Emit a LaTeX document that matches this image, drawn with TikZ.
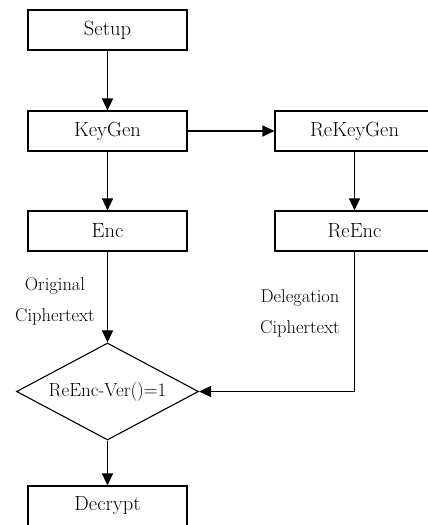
\documentclass[tikz,border=0pt]{standalone}
\usetikzlibrary{arrows.meta,shapes.geometric}
\begin{document}
\begin{tikzpicture}[x=1pt,y=-1pt,
  every node/.style={font=\fontsize{20.5}{24}\selectfont},
  box/.style={draw,line width=1.1pt,minimum width=159pt,minimum height=40pt,inner sep=0pt},
  dia/.style={draw,diamond,line width=1.1pt,minimum width=182pt,minimum height=97pt,aspect=1.876,inner sep=0pt,font=\fontsize{19}{23}\selectfont},
  lbl/.style={align=center,font=\fontsize{18.5}{31}\selectfont},
  conn/.style={line width=1.1pt,-{Triangle[length=12pt,width=11pt]}}]
\useasboundingbox (0,0) rectangle (428,525);
\node[box] (setup) at (107.5,30) {Setup};
\node[box] (keygen) at (107.5,131) {KeyGen};
\node[box] (rekeygen) at (354.5,131) {ReKeyGen};
\node[box] (enc) at (107.5,231) {Enc};
\node[box] (reenc) at (354.5,231) {ReEnc};
\node[dia] (ver) at (107.5,391.5) {\makebox[0pt]{ReEnc-Ver()=1}};
\node[box] (dec) at (107.5,506) {Decrypt};
\coordinate (corner) at (reenc.south |- ver.east);
\draw[conn] (setup) -- (keygen);
\draw[conn] (keygen) -- (rekeygen);
\draw[conn] (keygen) -- (enc);
\draw[conn] (rekeygen) -- (reenc);
\draw[conn] (enc) -- (ver);
\node[lbl] (orig) at (55,301) {Original\\Ciphertext};
\draw[conn] (reenc.south) -- (corner) -- (ver.east);
\node[lbl] (deleg) at (300,313) {Delegation\\Ciphertext};
\draw[conn] (ver) -- (dec);
\end{tikzpicture}
\end{document}
